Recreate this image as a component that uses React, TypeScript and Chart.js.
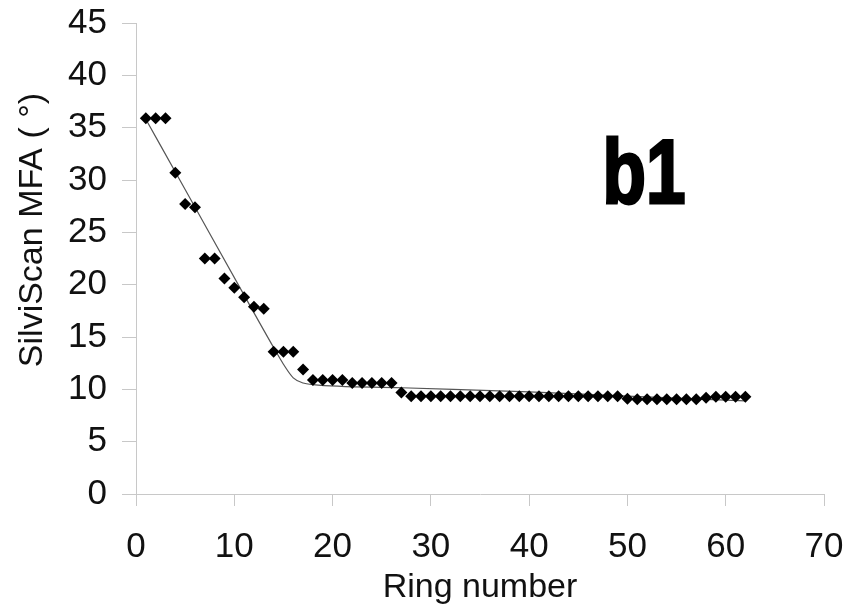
import React, { useEffect, useRef } from "react";
import { Chart, registerables } from "chart.js";

Chart.register(...registerables);

const rings: number[] = Array.from({ length: 62 }, (_, i) => i + 1);
const mfaValues: number[] = [
  35.9, 35.9, 35.9, 30.7, 27.7, 27.4, 22.5, 22.5, 20.6, 19.7,
  18.8, 17.9, 17.7, 13.6, 13.6, 13.6, 11.9, 10.9, 10.9, 10.9,
  10.9, 10.6, 10.6, 10.6, 10.6, 10.6, 9.7, 9.35, 9.35, 9.35,
  9.35, 9.35, 9.35, 9.35, 9.35, 9.35, 9.35, 9.35, 9.35, 9.35,
  9.35, 9.35, 9.35, 9.35, 9.35, 9.35, 9.35, 9.35, 9.35, 9.1,
  9.05, 9.05, 9.05, 9.05, 9.05, 9.05, 9.05, 9.2, 9.3, 9.3,
  9.3, 9.3,
];
const fitX: number[] = [1, 5, 11, 14, 15, 16, 17, 18, 27, 40, 50, 62];
const fitY: number[] = [35.8, 29.1, 19.0, 14.0, 12.4, 11.1, 10.6, 10.45, 10.15, 9.75, 9.35, 8.9];
const xTicks: number[] = [0, 10, 20, 30, 40, 50, 60, 70];
const yTicks: number[] = [0, 5, 10, 15, 20, 25, 30, 35, 40, 45];
const xTitle = "Ring number";
const yTitle = "SilviScan MFA ( °)";
const panelLabel = "b1";

const FONT = '"Liberation Sans", Arial, sans-serif';

export default function App() {
  const ref = useRef<HTMLCanvasElement | null>(null);
  useEffect(() => {
    if (!ref.current) return;
    const textPlugin = {
      id: "extraText",
      afterDraw(chart: any) {
        const ctx = chart.ctx;
        // panel label
        ctx.save();
        ctx.translate(644, 203);
        ctx.scale(0.79, 1);
        ctx.font = `bold 90px ${FONT}`;
        ctx.textAlign = "center";
        ctx.textBaseline = "alphabetic";
        ctx.fillStyle = "#000";
        ctx.strokeStyle = "#000";
        ctx.lineWidth = 3;
        ctx.fillText(panelLabel, 0, 0);
        ctx.strokeText(panelLabel, 0, 0);
        ctx.restore();
        // y axis title
        ctx.save();
        ctx.translate(33, 230);
        ctx.rotate(-Math.PI / 2);
        ctx.font = `34px ${FONT}`;
        ctx.textAlign = "center";
        ctx.textBaseline = "middle";
        ctx.fillStyle = "#111";
        ctx.fillText(yTitle, 0, 0);
        ctx.restore();
      },
    };
    const chart = new Chart(ref.current, {
      type: "scatter",
      data: {
        datasets: [
          {
            type: "line",
            data: fitX.map((x, i) => ({ x, y: fitY[i] })),
            borderColor: "#555",
            borderWidth: 1.2,
            pointRadius: 0,
            cubicInterpolationMode: "monotone",
            fill: false,
            order: 2,
          } as any,
          {
            data: rings.map((x, i) => ({ x, y: mfaValues[i] })),
            backgroundColor: "#000",
            borderColor: "#000",
            pointStyle: "rectRot",
            pointRadius: 6,
            borderWidth: 0,
            order: 1,
          },
        ],
      },
      options: {
        responsive: false,
        animation: false,
        layout: { padding: { left: 0, top: 23, right: 22, bottom: 0 } },
        plugins: { legend: { display: false }, tooltip: { enabled: false } },
        scales: {
          x: {
            type: "linear",
            min: 0,
            max: 70,
            afterBuildTicks: (s: any) => {
              s.ticks = xTicks.map((v) => ({ value: v }));
            },
            afterFit: (s: any) => {
              s.height = 118;
              s.paddingLeft = 0;
              s.paddingRight = 0;
            },
            border: { display: true, color: "#c8c8c8", width: 1 },
            grid: { drawOnChartArea: false, drawTicks: true, tickLength: 12, color: "#c8c8c8" },
            ticks: { color: "#111", font: { family: FONT, size: 35 }, padding: 20, maxRotation: 0 },
            title: { display: true, text: xTitle, color: "#111", font: { family: FONT, size: 34 }, padding: { top: 0, bottom: 4 } },
          },
          y: {
            type: "linear",
            min: 0,
            max: 45,
            afterBuildTicks: (s: any) => {
              s.ticks = yTicks.map((v) => ({ value: v }));
            },
            afterFit: (s: any) => {
              s.width = 136;
              s.paddingTop = 0;
              s.paddingBottom = 0;
            },
            border: { display: true, color: "#c8c8c8", width: 1 },
            grid: { drawOnChartArea: false, drawTicks: true, tickLength: 14, color: "#c8c8c8" },
            ticks: { color: "#111", font: { family: FONT, size: 35 }, padding: 15 },
            title: { display: false },
          },
        },
      },
      plugins: [textPlugin],
    } as any);
    return () => chart.destroy();
  }, []);
  return (
    <div style={{ position: "absolute", left: 0, top: 0, width: 846, height: 612, background: "#fff" }}>
      <canvas ref={ref} width={846} height={612} style={{ width: 846, height: 612 }} />
    </div>
  );
}
